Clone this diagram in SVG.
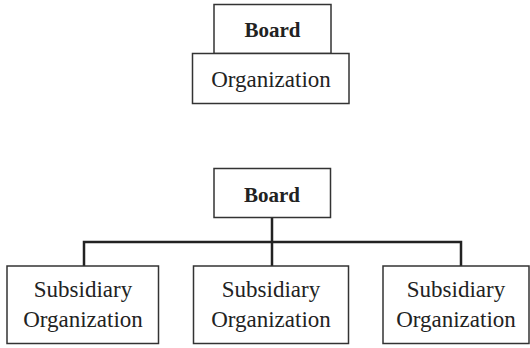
<svg xmlns="http://www.w3.org/2000/svg" width="530" height="348" viewBox="0 0 530 348">
<style>
.box{fill:#fff;stroke:#333;stroke-width:1.5}
.t{font-family:"Liberation Serif","Times New Roman",serif;font-size:23px;fill:#222;text-anchor:middle}
.b{font-weight:bold;font-size:21px}
.c{fill:none;stroke:#222;stroke-width:2.5}
</style>
<rect width="530" height="348" fill="#fff"/>
<g id="top-board">
<rect class="box" x="214" y="4.5" width="117" height="49"/>
<text class="t b" x="272.5" y="37">Board</text>
</g>
<g id="top-organization">
<rect class="box" x="192.5" y="53.5" width="156.5" height="50"/>
<text class="t" x="271" y="87">Organization</text>
</g>
<g id="connectors">
<path class="c" d="M272,218 V266 M84,266 V242 H461 V266"/>
</g>
<g id="bottom-board">
<rect class="box" x="214" y="168.5" width="116.5" height="49"/>
<text class="t b" x="272" y="201.5">Board</text>
</g>
<g id="sub1">
<rect class="box" x="7" y="266" width="151.5" height="77.5"/>
<text class="t" x="83" y="296.5">Subsidiary</text>
<text class="t" x="83" y="326.5">Organization</text>
</g>
<g id="sub2">
<rect class="box" x="193.5" y="266" width="155" height="77.5"/>
<text class="t" x="271" y="296.5">Subsidiary</text>
<text class="t" x="271" y="326.5">Organization</text>
</g>
<g id="sub3">
<rect class="box" x="383" y="266" width="146" height="77.5"/>
<text class="t" x="456" y="296.5">Subsidiary</text>
<text class="t" x="456" y="326.5">Organization</text>
</g>
</svg>
